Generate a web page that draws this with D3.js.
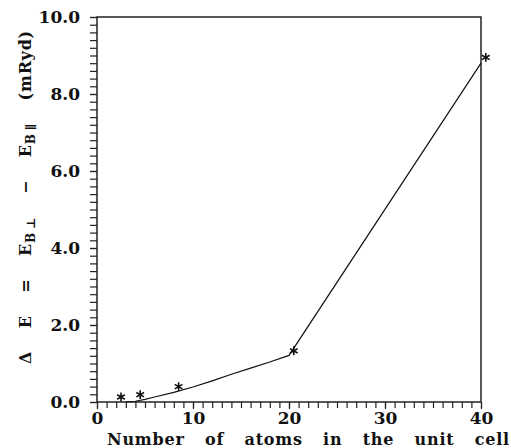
<!DOCTYPE html>
<html>
<head>
<meta charset="utf-8">
<script src="https://cdn.jsdelivr.net/npm/d3@7"></script>
<style>
  body { margin: 0; background: #fff; }
  text { font-family: "DejaVu Serif", serif; font-weight: bold; fill: #111; }
</style>
</head>
<body>
<div id="chart"></div>
<script>
// measured points (asterisks)
const atoms = [2.5, 4.5, 8.5, 20.5, 40.5];
const deltaE = [0.13, 0.19, 0.40, 1.33, 8.95];

// fitted curve
const fitX = [3.0, 4.0, 5.0, 6.0, 8.0, 10.0, 12.0, 14.0, 16.0, 18.0, 20.0, 40.0];
const fitY = [0.0, 0.02, 0.07, 0.13, 0.25, 0.39, 0.55, 0.72, 0.88, 1.04, 1.21, 8.8];

const xTicks = [0, 10, 20, 30, 40];
const yTicks = [0, 2, 4, 6, 8, 10];

const margin = { top: 17, right: 30, bottom: 46, left: 97 };
const W = 511, H = 448;
const w = W - margin.left - margin.right;
const h = H - margin.top - margin.bottom;

const svg = d3.select('#chart').append('svg')
    .attr('width', W)
    .attr('height', H);

const chart = svg.append('g')
    .attr('transform', 'translate(' + margin.left + ',' + margin.top + ')');

const scaleX = d3.scaleLinear().domain([0, 40]).range([0, w]);
const scaleY = d3.scaleLinear().domain([0, 10]).range([h, 0]);

const styleTicks = g => g.selectAll('line').attr('stroke', '#222').attr('stroke-width', 1.2);
const styleText = g => g.selectAll('text')
    .attr('font-size', 17)
    .attr('font-family', '"DejaVu Serif", serif')
    .attr('fill', '#111');

// minor ticks
chart.append('g')
    .attr('transform', 'translate(0,' + h + ')')
    .call(d3.axisBottom(scaleX).ticks(40).tickSize(6).tickFormat(''))
    .call(g => g.select('.domain').remove())
    .call(styleTicks);

chart.append('g')
    .call(d3.axisLeft(scaleY).ticks(50).tickSize(7).tickFormat(''))
    .call(g => g.select('.domain').remove())
    .call(styleTicks);

// labels
chart.append('g')
    .attr('transform', 'translate(0,' + h + ')')
    .call(d3.axisBottom(scaleX).tickValues(xTicks).tickSize(7).tickPadding(3).tickFormat(d3.format('d')))
    .call(g => g.select('.domain').remove())
    .call(styleTicks)
    .call(styleText);

chart.append('g')
    .call(d3.axisLeft(scaleY).tickValues(yTicks).tickSize(7).tickPadding(10).tickFormat(d3.format('.1f')))
    .call(g => g.select('.domain').remove())
    .call(styleTicks)
    .call(styleText);

// frame
chart.append('rect')
    .attr('width', w)
    .attr('height', h)
    .style('fill', 'none')
    .style('stroke', '#222')
    .style('stroke-width', 1.5);

// fitted line
const line = d3.line()
    .x(d => scaleX(d[0]))
    .y(d => scaleY(d[1]));

chart.append('path')
    .datum(d3.zip(fitX, fitY))
    .attr('d', line)
    .style('fill', 'none')
    .style('stroke', '#111')
    .style('stroke-width', 1.2);

// asterisks
const star = d3.symbol(d3.symbolAsterisk, 55);
chart.selectAll('.pt')
    .data(d3.zip(atoms, deltaE))
    .enter()
    .append('path')
        .attr('class', 'pt')
        .attr('d', star)
        .attr('transform', d => 'translate(' + scaleX(d[0]) + ',' + scaleY(d[1]) + ')')
        .style('fill', 'none')
        .style('stroke', '#111')
        .style('stroke-width', 1.6);

// spread words of a title out to a target length
function spread(t, target) {
    t.attr('word-spacing', 0);
    const natural = t.node().getComputedTextLength();
    const gaps = t.text().split(' ').length - 1;
    t.attr('word-spacing', Math.max(0, (target - natural) / gaps));
}

// axis titles
const xt = svg.append('text')
    .attr('x', 107)
    .attr('y', 445)
    .attr('font-size', 16)
    .attr('letter-spacing', 0.8)
    .text('Number of atoms in the unit cell');
spread(xt, 403);

const yt = svg.append('text')
    .attr('transform', 'translate(31,' + 364 + ') rotate(-90)')
    .attr('font-size', 16)
    .attr('letter-spacing', 0.8);
yt.append('tspan').text('\u0394 E = E');
yt.append('tspan').attr('font-size', 12).attr('dy', 4).text('B\u2009\u22A5');
yt.append('tspan').attr('dy', -4).text(' \u2212 E');
yt.append('tspan').attr('font-size', 12).attr('dy', 4).text('B\u2009\u2225');
yt.append('tspan').attr('dy', -4).text(' (mRyd)');
spread(yt, 334);
</script>
</body>
</html>
